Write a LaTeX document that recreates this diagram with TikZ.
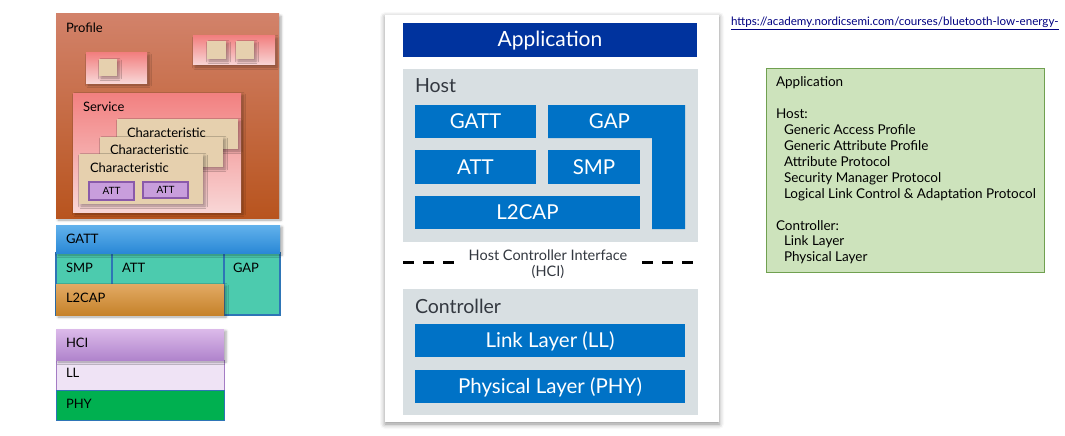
\documentclass[tikz,border=0pt]{standalone}
\usepackage{fontspec}
\setmainfont{Lato}
\usetikzlibrary{fit,shadows.blur}
\definecolor{profTop}{HTML}{D2826A}
\definecolor{profBot}{HTML}{B8541E}
\definecolor{pinkTop}{HTML}{F28080}
\definecolor{pinkBot}{HTML}{F8D6D6}
\definecolor{beige}{HTML}{E6D0AE}
\definecolor{attFill}{HTML}{C89EDC}
\definecolor{attLine}{HTML}{8A5AAA}
\definecolor{gattTop}{HTML}{62B2EC}
\definecolor{gattBot}{HTML}{2A88D6}
\definecolor{teal}{HTML}{4CCBAE}
\definecolor{edgeBlue}{HTML}{2E75B6}
\definecolor{l2Top}{HTML}{E2AA64}
\definecolor{l2Bot}{HTML}{C6822A}
\definecolor{hciTop}{HTML}{DCBAEA}
\definecolor{hciBot}{HTML}{B084CC}
\definecolor{llFill}{HTML}{EFE3F5}
\definecolor{llLine}{HTML}{A47CC4}
\definecolor{phyGreen}{HTML}{00B050}
\definecolor{bleBlue}{HTML}{0072C6}
\definecolor{appBlue}{HTML}{00339E}
\definecolor{panelGray}{HTML}{D8DFE2}
\definecolor{darkText}{HTML}{333840}
\definecolor{noteFill}{HTML}{CDE3BC}
\definecolor{noteLine}{HTML}{70A050}
\definecolor{urlBlue}{HTML}{000080}
\begin{document}
\begin{tikzpicture}[x=1pt,y=-1pt,
  every node/.style={inner sep=0pt, outer sep=0pt},
  softshadow/.style={blur shadow={shadow xshift=2pt, shadow yshift=-2pt, shadow blur radius=2.5pt, shadow opacity=35}},
  lbl/.style={anchor=west, font=\fontsize{13}{15}\selectfont, text=black},
  attbox/.style={fill=attFill, draw=attLine, line width=1.2pt},
  atttext/.style={font=\fontsize{10}{12}\selectfont},
  ble/.style={fill=bleBlue},
  bletext/.style={text=white, font=\fontsize{20.5}{24}\selectfont},
  panel/.style={fill=panelGray},
  paneltitle/.style={anchor=west, text=darkText, font=\fontsize{19.5}{23}\selectfont}]
\useasboundingbox (0,0) rectangle (1065,436);

% ---------------- left: profile ----------------
\node[fit={(56,14)(279,218)}, top color=profTop, bottom color=profBot, softshadow] (profile) {};
\node[lbl] (profileT) at (66,28) {Profile};
\node[fit={(86,53)(147,83)}, top color=pinkTop, bottom color=pinkBot, softshadow] (svcA) {};
\node[fit={(99,59)(117,76)}, fill=beige, softshadow] (chA) {};
\node[fit={(193,36)(275,65)}, top color=pinkTop, bottom color=pinkBot, softshadow] (svcB) {};
\node[fit={(207,41)(226,59)}, fill=beige, softshadow] (chB1) {};
\node[fit={(236,41)(254,59)}, fill=beige, softshadow] (chB2) {};
\node[fit={(73,93)(241,212)}, top color=pinkTop, bottom color=pinkBot, softshadow] (service) {};
\node[lbl] (serviceT) at (83,107) {Service};
\node[fit={(117,119)(238,149)}, fill=beige, softshadow] (char3) {};
\node[lbl] (char3T) at (127,133) {Characteristic};
\node[fit={(100,137)(223,167)}, fill=beige, softshadow] (char2) {};
\node[lbl] (char2T) at (110,150) {Characteristic};
\node[fit={(79,154)(203,204)}, fill=beige, softshadow] (char1) {};
\node[lbl] (char1T) at (90,168) {Characteristic};
\node[fit={(89,182)(134,200)}, attbox] (att1) {};
\node at (att1.center) (att1T) [atttext] {ATT};
\node[fit={(143,182)(188,198)}, attbox] (att2) {};
\node at (att2.center) (att2T) [atttext] {ATT};

% ---------------- left: stack ----------------
\node[fit={(56,253)(280,315)}, fill=teal, draw=edgeBlue, line width=1.2pt] (tealbox) {};
\draw[edgeBlue, line width=1.2pt] (112,253) -- (112,284);
\draw[edgeBlue, line width=1.2pt] (224,253) -- (224,315);
\node[fit={(56,225)(280,253)}, top color=gattTop, bottom color=gattBot, softshadow] (gatt) {};
\node[lbl] (gattT) at (66,239) {GATT};
\node[lbl] (smpT) at (66,268) {SMP};
\node[lbl] (attT) at (122,268) {ATT};
\node[lbl] (gapT) at (233,268) {GAP};
\node[fit={(56,284)(224,315)}, top color=l2Top, bottom color=l2Bot, softshadow] (l2cap) {};
\node[lbl] (l2capT) at (66,298) {L2CAP};

\node[fit={(56,360)(224,390)}, fill=llFill, draw=llLine, line width=0.8pt] (ll) {};
\node[lbl] (llT) at (66,373) {LL};
\node[fit={(56,390)(224,420)}, fill=phyGreen, draw=edgeBlue, line width=0.8pt] (phy) {};
\node[lbl] (phyT) at (66,404) {PHY};
\node[fit={(56,329)(224,360)}, top color=hciTop, bottom color=hciBot, softshadow] (hci) {};
\node[lbl] (hciT) at (66,343) {HCI};

% ---------------- middle: BLE stack ----------------
\node[fit={(385,15)(719,422)}, fill=white, blur shadow={shadow xshift=0pt, shadow yshift=-2pt, shadow blur radius=5pt, shadow opacity=45}] (card) {};
\node[fit={(403,23)(697,57)}, fill=appBlue] (app) {};
\node[anchor=base, text=white, font=\fontsize{21}{24}\selectfont] (appT) at (550,47) {Application};

\node[fit={(403,69)(698,242)}, panel] (host) {};
\node[paneltitle] (hostT) at (415,86) {Host};
\node[fit={(415,105)(536,138)}, ble] (gattB) {};
\node at (gattB.center) (gattBT) [bletext] {GATT};
\fill[bleBlue] (548,105) -- (685,105) -- (685,229) -- (652,229) -- (652,138) -- (548,138) -- cycle;
\node[fit={(548,105)(685,138)}] (gapB) {};
\node at (gapB.center) (gapBT) [xshift=-7pt, bletext] {GAP};
\node[fit={(415,150)(536,184)}, ble] (attB) {};
\node at (attB.center) (attBT) [bletext] {ATT};
\node[fit={(548,150)(640,184)}, ble] (smpB) {};
\node at (smpB.center) (smpBT) [bletext] {SMP};
\node[fit={(415,196)(640,229)}, ble] (l2capB) {};
\node at (l2capB.center) (l2capBT) [bletext] {L2CAP};

\coordinate (dashL1) at (403,262);
\coordinate (dashL2) at (455,262);
\coordinate (dashR1) at (642,262);
\coordinate (dashR2) at (694,262);
\draw[line width=3pt, dash pattern=on 11pt off 9pt] (dashL1) -- (dashL2);
\draw[line width=3pt, dash pattern=on 11pt off 9pt] (dashR1) -- (dashR2);
\node[align=center, text=darkText, font=\fontsize{14.5}{16.5}\selectfont] (hciB) at (548,264) {Host Controller Interface\\(HCI)};

\node[fit={(403,289)(698,415)}, panel] (ctrl) {};
\node[paneltitle] (ctrlT) at (415,306) {Controller};
\node[fit={(415,324)(685,357)}, ble] (llB) {};
\node[anchor=base, bletext] (llBT) at (550,347) {Link Layer (LL)};
\node[fit={(415,370)(685,403)}, ble] (phyB) {};
\node[anchor=base, bletext] (phyBT) at (550,393) {Physical Layer (PHY)};

% ---------------- right ----------------
\node[anchor=west, text=urlBlue, font=\fontsize{11.6}{13}\selectfont] (url) at (731,23) {\underline{https://academy.nordicsemi.com/courses/bluetooth-low-energy-}};

\node[fit={(766,69)(1044,272)}, fill=noteFill, draw=noteLine, line width=1pt] (note) {};
\node[anchor=north west, align=left, font=\fontsize{13.5}{15.9}\selectfont] (noteT) at (776,77) {%
Application\\
\mbox{}\\
Host:\\
\hspace*{8pt}Generic Access Profile\\
\hspace*{8pt}Generic Attribute Profile\\
\hspace*{8pt}Attribute Protocol\\
\hspace*{8pt}Security Manager Protocol\\
\hspace*{8pt}Logical Link Control \& Adaptation Protocol\\
\mbox{}\\
Controller:\\
\hspace*{8pt}Link Layer\\
\hspace*{8pt}Physical Layer};
\end{tikzpicture}
\end{document}
